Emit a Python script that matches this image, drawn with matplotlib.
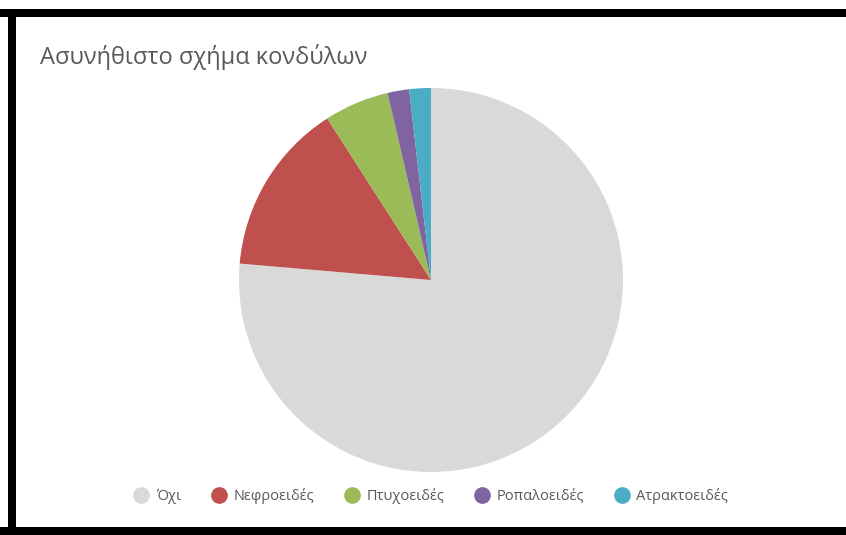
import matplotlib.pyplot as plt
from matplotlib.lines import Line2D
from matplotlib.patches import Rectangle

# Κατηγορίες και πλήθος περιπτώσεων
labels = ['Όχι', 'Νεφροειδές', 'Πτυχοειδές', 'Ροπαλοειδές', 'Ατρακτοειδές']
counts = [42, 8, 3, 1, 1]
colors = ['#D9D9D9', '#C0504D', '#9BBB59', '#8064A2', '#4BACC6']

plt.rcParams['font.family'] = ['Open Sans', 'DejaVu Sans']

W, H = 846, 535
fig = plt.figure(figsize=(W / 100, H / 100), dpi=100)
fig.patch.set_facecolor('white')

# Μαύρο πλαίσιο γύρω από το γράφημα
fig.add_artist(Rectangle((0, 1 - 17 / H), 1, 8 / H, transform=fig.transFigure,
                         facecolor='black', edgecolor='none'))
fig.add_artist(Rectangle((8 / W, 0), 8 / W, 1 - 9 / H, transform=fig.transFigure,
                         facecolor='black', edgecolor='none'))
fig.add_artist(Rectangle((0, 0), 1, 8 / H, transform=fig.transFigure,
                         facecolor='black', edgecolor='none'))

fig.text(40 / W, 1 - 57 / H, 'Ασυνήθιστο σχήμα κονδύλων', fontsize=17,
         color='#595959', va='center', ha='left')

# Πίτα: κέντρο και ακτίνα σε pixels
cx, cy, r = 431, 280, 192
ax = fig.add_axes([(cx - r) / W, (H - cy - r) / H, 2 * r / W, 2 * r / H])
ax.pie(counts, colors=colors, startangle=90, counterclock=False,
       radius=1, wedgeprops={'linewidth': 0})
ax.set_xlim(-1, 1)
ax.set_ylim(-1, 1)
ax.set_aspect('equal')
ax.axis('off')

handles = [Line2D([], [], marker='o', linestyle='none', markersize=11,
                  markerfacecolor=c, markeredgecolor=c) for c in colors]
fig.legend(handles, labels, loc='center', bbox_to_anchor=(431 / W, 1 - 496 / H),
           ncol=5, frameon=False, fontsize=10.5, labelcolor='#595959',
           handletextpad=0.5, columnspacing=2.1, handlelength=1.0)

fig.savefig('out.png', dpi=100)
